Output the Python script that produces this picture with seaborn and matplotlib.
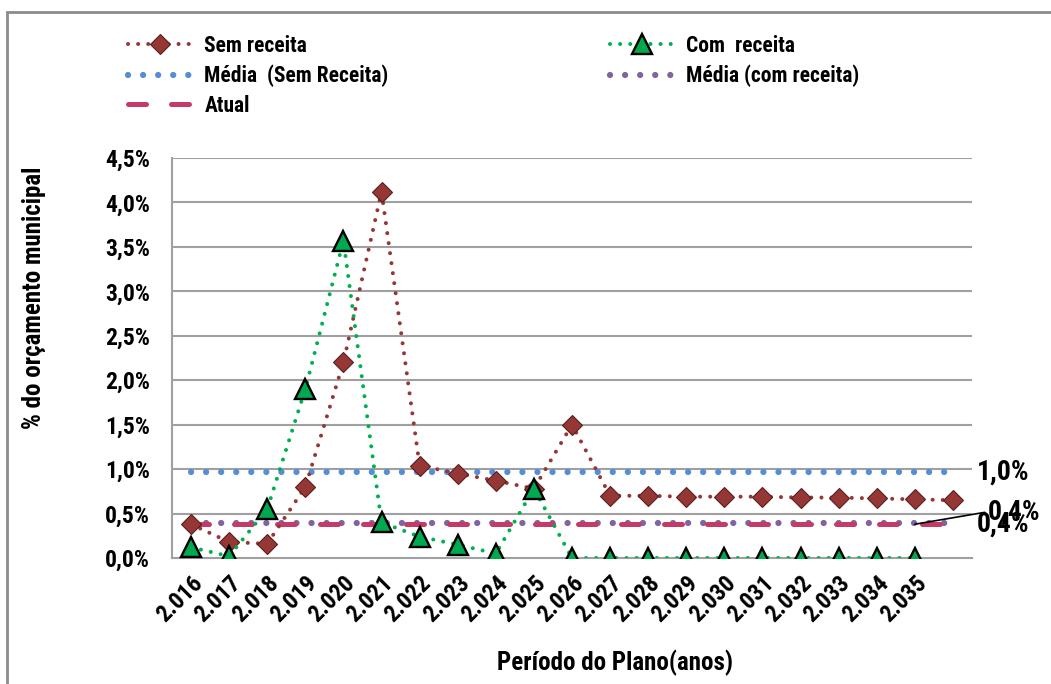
import numpy as np
import pandas as pd
import matplotlib
matplotlib.use("Agg")
import matplotlib.pyplot as plt
import seaborn as sns
from matplotlib import font_manager
from matplotlib.patches import Rectangle
from matplotlib.ticker import FixedLocator

# Data (values in % of municipal budget)
anos = ['2.016', '2.017', '2.018', '2.019', '2.020', '2.021', '2.022', '2.023', '2.024', '2.025',
        '2.026', '2.027', '2.028', '2.029', '2.030', '2.031', '2.032', '2.033', '2.034', '2.035', '']
sem_receita = [0.38, 0.18, 0.16, 0.80, 2.20, 4.12, 1.04, 0.95, 0.87, 0.78,
               1.50, 0.70, 0.70, 0.69, 0.69, 0.69, 0.68, 0.68, 0.67, 0.66, 0.65]
com_receita = [0.12, 0.02, 0.55, 1.90, 3.57, 0.40, 0.24, 0.15, 0.05, 0.78,
               0.0, 0.0, 0.0, 0.0, 0.0, 0.0, 0.0, 0.0, 0.0, 0.0]
media_sem = 0.97
media_com = 0.39
atual = 0.38

sns.set_style("white")

# look for a narrow / condensed family, otherwise DejaVu Sans
narrow = None
names = sorted({f.name for f in font_manager.fontManager.ttflist})
for want in ['Liberation Sans Narrow', 'Roboto Condensed', 'Open Sans Condensed', 'DejaVu Sans Condensed']:
    if want in names:
        narrow = want
        break
fams = [narrow, 'DejaVu Sans'] if narrow else ['DejaVu Sans']
plt.rcParams['font.family'] = fams
if not narrow:
    plt.rcParams['font.stretch'] = 'condensed'
plt.rcParams['font.weight'] = 'bold'
for k in ['text.color', 'axes.labelcolor', 'xtick.labelcolor', 'ytick.labelcolor']:
    plt.rcParams[k] = 'black'

n = len(anos)
idx = np.arange(n)
df_sem = pd.DataFrame({'x': idx, 'y': sem_receita})
df_com = pd.DataFrame({'x': idx[:len(com_receita)], 'y': com_receita})
df_ref = pd.DataFrame({'x': idx, 'media_sem': [media_sem] * n,
                       'media_com': [media_com] * n, 'atual': [atual] * n})

fig = plt.figure(figsize=(10.51, 6.84), dpi=100)
ax = fig.add_axes([172 / 1051, 126 / 684, 800 / 1051, 400 / 684])

# outer frame (only top/left visible)
fig.patches.append(Rectangle((7 / 1051, -0.1), 1.2, 1.1 - 12 / 684, transform=fig.transFigure,
                             fill=False, edgecolor='#8c8c8c', lw=2))

grid_c = '#a0a0a0'
for v in np.arange(0.5, 4.51, 0.5):
    ax.axhline(v, color=grid_c, lw=1.5, zorder=0)

sns.lineplot(data=df_ref, x='x', y='media_sem', ax=ax, color='#558ED5', lw=4.5,
             linestyle=(0, (0.01, 2.4)), dash_capstyle='round', label='Média  (Sem Receita)', zorder=2)
sns.lineplot(data=df_ref, x='x', y='media_com', ax=ax, color='#8064A2', lw=4.5,
             linestyle=(0, (0.01, 2.4)), dash_capstyle='round', label='Média (com receita)', zorder=2)
sns.lineplot(data=df_ref, x='x', y='atual', ax=ax, color='#C43B67', lw=3.6,
             linestyle=(0, (3.6, 5)), dash_capstyle='round', label='Atual', zorder=3)
sns.lineplot(data=df_sem, x='x', y='y', ax=ax, color='#953735', lw=2.9,
             linestyle=(0, (0.01, 2.5)), dash_capstyle='round', marker='D', ms=10.5,
             mfc='#953735', mec='#5a1f1f', mew=0.8, label='Sem receita', zorder=4)
sns.lineplot(data=df_com, x='x', y='y', ax=ax, color='#00B050', lw=2.9,
             linestyle=(0, (0.01, 2.5)), dash_capstyle='round', marker='^', ms=14,
             mfc='#00A84F', mec='black', mew=1.7, label='Com  receita', zorder=5)

if ax.legend_ is not None:
    ax.legend_.remove()

ax.set_xlim(-0.5, n - 0.5)
ax.set_ylim(0, 4.5)
ax.set_yticks(np.arange(0, 4.51, 0.5))
ax.set_yticklabels([f"{v:.1f}%".replace('.', ',') for v in np.arange(0, 4.51, 0.5)])
ax.set_xticks(idx)
ax.set_xticklabels(anos, rotation=45, ha='right', va='top', rotation_mode='anchor')
ax.xaxis.set_minor_locator(FixedLocator(np.arange(-0.5, n, 1)))
ax.tick_params(axis='x', which='major', length=0, pad=10, labelsize=17)
ax.tick_params(axis='x', which='minor', length=7, width=1.5, color=grid_c)
ax.tick_params(axis='y', length=8, width=1.5, color=grid_c, labelsize=17, pad=8)
for s in ['top', 'right']:
    ax.spines[s].set_visible(False)
for s in ['left', 'bottom']:
    ax.spines[s].set_color(grid_c)
    ax.spines[s].set_linewidth(1.5)

ax.set_xlabel('Período do Plano(anos)', fontsize=18, fontweight='bold')
ax.xaxis.set_label_coords(0.554, -0.23)
ax.set_ylabel('% do orçamento municipal', fontsize=18, fontweight='bold')
ax.yaxis.set_label_coords(-0.158, 0.65)

# value labels on the right
yt = ax.get_yaxis_transform()
ax.text(1.006, media_sem, '1,0%', transform=yt, ha='left', va='center', fontsize=20, fontweight='bold')
ax.text(1.006, 0.38, '0,4%', transform=yt, ha='left', va='center', fontsize=20, fontweight='bold')
ax.annotate('0,4%', xy=(19, atual), xycoords='data', xytext=(1.02, 0.52), textcoords=yt,
            ha='left', va='center', fontsize=20, fontweight='bold',
            arrowprops=dict(arrowstyle='-', color='black', lw=1.2, shrinkA=0, shrinkB=0, relpos=(0, 0.5)))

# legend in two blocks
h, l = ax.get_legend_handles_labels()
hd = dict(zip(l, h))
kw = dict(frameon=False, fontsize=15.5, handlelength=3.0, handletextpad=0.55, labelspacing=0.35,
          borderpad=0, borderaxespad=0, numpoints=1)
fig.legend([hd[k] for k in ['Sem receita', 'Média  (Sem Receita)', 'Atual']],
           ['Sem receita', 'Média  (Sem Receita)', 'Atual'],
           loc='upper left', bbox_to_anchor=(128 / 1051, 1 - 35 / 684), **kw)
fig.legend([hd[k] for k in ['Com  receita', 'Média (com receita)']],
           ['Com  receita', 'Média (com receita)'],
           loc='upper left', bbox_to_anchor=(610 / 1051, 1 - 35 / 684), **kw)

fig.savefig('out.png', dpi=100)
